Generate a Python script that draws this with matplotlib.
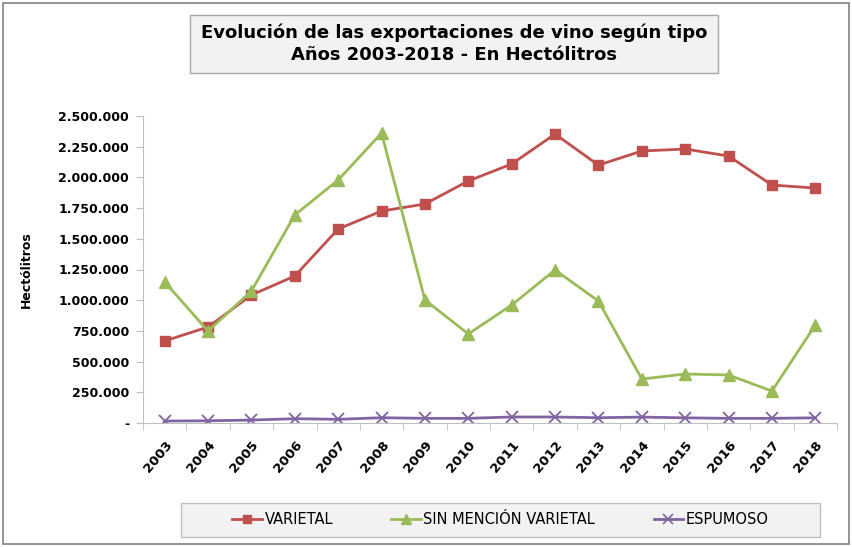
import matplotlib
matplotlib.use("Agg")
import matplotlib.pyplot as plt
from matplotlib.patches import Rectangle
from matplotlib.lines import Line2D
from matplotlib.ticker import FuncFormatter, FixedLocator

years = ["2003", "2004", "2005", "2006", "2007", "2008", "2009", "2010",
         "2011", "2012", "2013", "2014", "2015", "2016", "2017", "2018"]
varietal = [668000, 782000, 1042000, 1197000, 1580000, 1726000, 1783000, 1971000,
            2109000, 2353000, 2100000, 2215000, 2231000, 2174000, 1938000, 1913000]
sin_mencion = [1148000, 749000, 1075000, 1694000, 1979000, 2361000, 1002000, 725000,
               961000, 1246000, 993000, 358000, 399000, 391000, 260000, 798000]
espumoso = [16000, 18000, 24000, 35000, 30000, 43000, 38000, 38000,
            49000, 49000, 43000, 48000, 42000, 38000, 38000, 42000]

title_lines = ["Evolución de las exportaciones de vino según tipo",
               "Años 2003-2018 - En Hectólitros"]
ylabel = "Hectólitros"
series_names = ["VARIETAL", "SIN MENCIÓN VARIETAL", "ESPUMOSO"]

plt.rcParams['font.family'] = ['DejaVu Sans']

W, H = 852, 547
fig = plt.figure(figsize=(W / 100, H / 100), dpi=100)

# outer border
fig.patches.append(Rectangle((3 / W, 3 / H), (W - 6) / W, (H - 6) / H, transform=fig.transFigure,
                             fill=False, edgecolor="#808080", linewidth=1.2))

# title box
tx0, tx1, ty0, ty1 = 190, 718, 15, 73
fig.patches.append(Rectangle((tx0 / W, 1 - ty1 / H), (tx1 - tx0) / W, (ty1 - ty0) / H,
                             transform=fig.transFigure, facecolor="#f2f2f2",
                             edgecolor="#a6a6a6", linewidth=1))
fig.text((tx0 + tx1) / 2 / W, 1 - (ty0 + ty1) / 2 / H, "\n".join(title_lines),
         ha="center", va="center", fontsize=13, fontweight="bold",
         linespacing=1.3, color="black")

ax_l, ax_r, ax_t, ax_b = 143, 837, 116, 423
ax = fig.add_axes([ax_l / W, 1 - ax_b / H, (ax_r - ax_l) / W, (ax_b - ax_t) / H])
x = list(range(len(years)))
colors = ["#C0504D", "#9BBB59", "#8064A2"]
ax.plot(x, varietal, color=colors[0], linewidth=2.0, marker="s", markersize=7.5)
ax.plot(x, sin_mencion, color=colors[1], linewidth=2.0, marker="^", markersize=8.5)
ax.plot(x, espumoso, color=colors[2], linewidth=2.0, marker="x", markersize=8,
        markeredgewidth=1.3)

ax.set_xlim(-0.5, len(years) - 0.5)
ax.set_ylim(0, 2500000)
ax.set_yticks(range(0, 2500001, 250000))


def fmt(v, pos):
    if v == 0:
        return "-"
    return f"{int(v):,}".replace(",", ".")


ax.yaxis.set_major_formatter(FuncFormatter(fmt))
ax.set_xticks(x)
ax.set_xticklabels(years, rotation=50, ha="right", rotation_mode="anchor",
                   fontsize=9.5, fontweight="bold")
ax.xaxis.set_minor_locator(FixedLocator([i + 0.5 for i in range(-1, len(years))]))
ax.tick_params(axis="x", which="major", length=0, pad=11)
ax.tick_params(axis="x", which="minor", length=5, color="#bfbfbf")
ax.tick_params(axis="y", length=5, color="#bfbfbf", labelsize=9, pad=5)
for lab in ax.get_yticklabels():
    lab.set_fontweight("bold")
for s in ["top", "right"]:
    ax.spines[s].set_visible(False)
ax.spines["left"].set_color("#bfbfbf")
ax.spines["bottom"].set_color("#bfbfbf")
ax.set_ylabel(ylabel, fontsize=9, fontweight="bold")
ax.yaxis.set_label_coords(-(ax_l - 33) / (ax_r - ax_l), 0.5)

# legend box
lx0, lx1, ly0, ly1 = 181, 820, 503, 537
fig.patches.append(Rectangle((lx0 / W, 1 - ly1 / H), (lx1 - lx0) / W, (ly1 - ly0) / H,
                             transform=fig.transFigure, facecolor="#f2f2f2",
                             edgecolor="#bfbfbf", linewidth=1))
handles = [
    Line2D([], [], color=colors[0], linewidth=2.0, marker="s", markersize=6),
    Line2D([], [], color=colors[1], linewidth=2.0, marker="^", markersize=6.5),
    Line2D([], [], color=colors[2], linewidth=2.0, marker="x", markersize=6.5, markeredgewidth=1.2),
]
leg = fig.legend(handles, series_names, loc="center", ncol=3,
                 bbox_to_anchor=((lx0 + lx1) / 2 / W, 1 - (ly0 + ly1) / 2 / H),
                 frameon=False, fontsize=10.5, handlelength=2.0, handletextpad=0.2,
                 columnspacing=4.0)

fig.savefig("out.png", dpi=100)
